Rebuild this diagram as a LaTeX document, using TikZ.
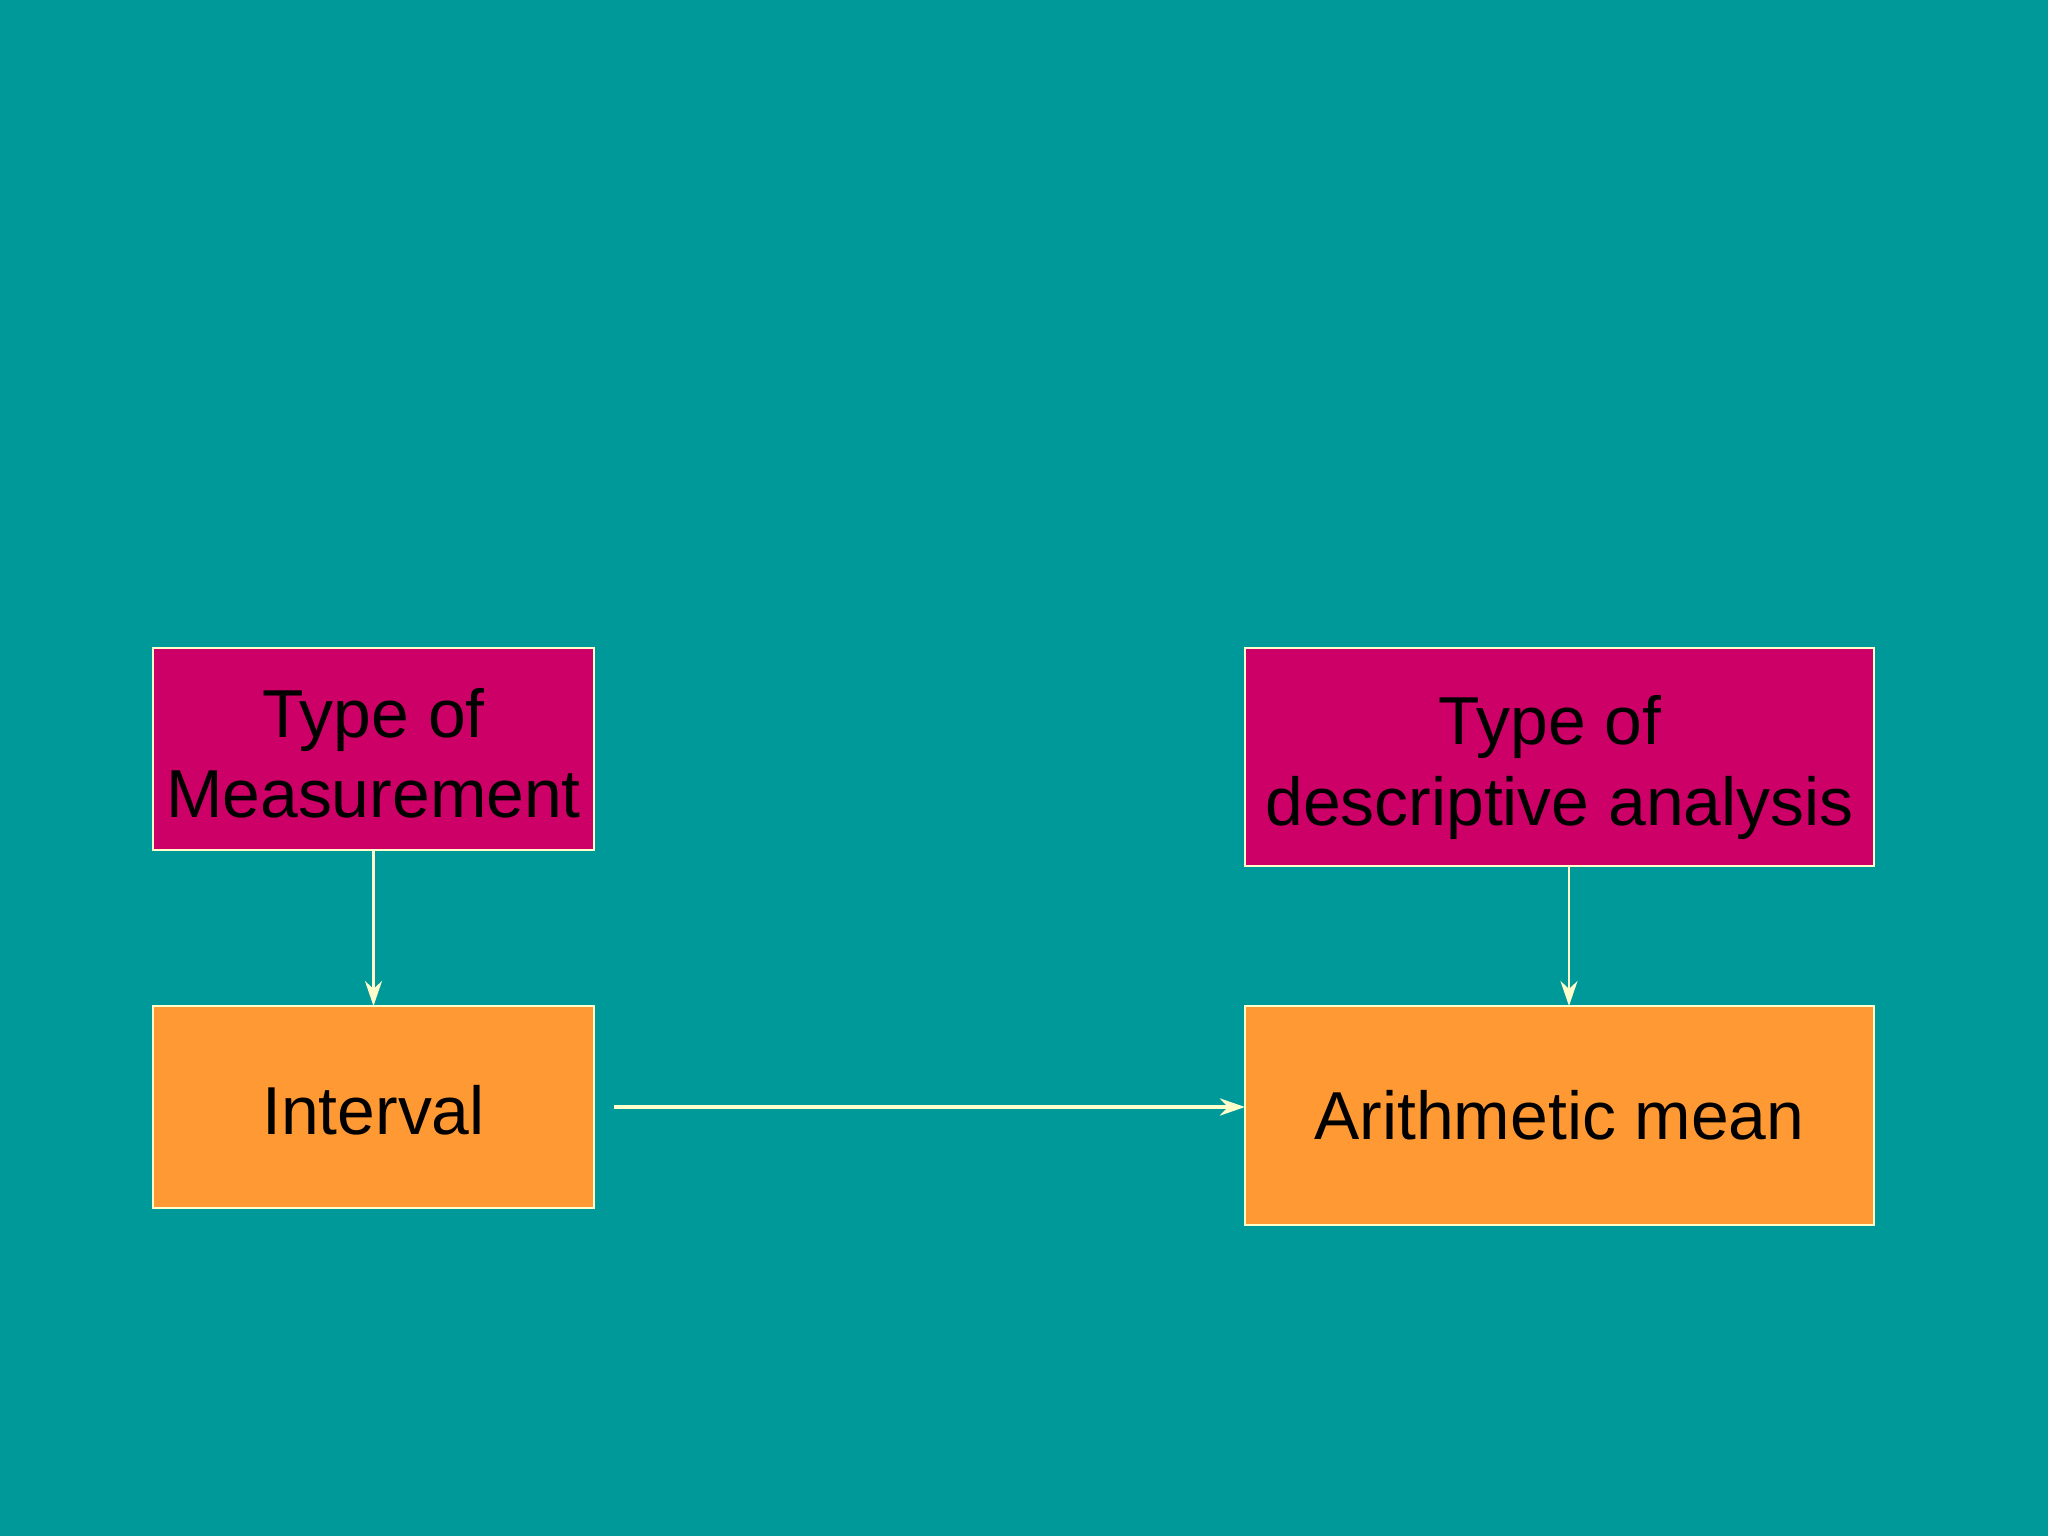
\documentclass[tikz,border=0pt]{standalone}
\usepackage{fontspec}
\setmainfont{Liberation Sans}
\usetikzlibrary{arrows.meta}
\definecolor{slidebg}{RGB}{0,153,153}
\definecolor{headbox}{RGB}{204,0,102}
\definecolor{valbox}{RGB}{255,153,51}
\definecolor{cream}{RGB}{255,255,204}
\begin{document}
\begin{tikzpicture}[box/.style={draw=cream,line width=0.6pt,inner sep=0pt,outer sep=0pt,
          align=center,font=\fontsize{19.3}{23}\selectfont},
        conn/.style={draw=cream,-{Stealth[length=0.25cm,width=0.17cm,inset=0.08cm]}}]
        \fill[slidebg] (0,0) rectangle (20.48,-15.36);
        \node[box,fill=headbox,minimum width=4.41cm,minimum height=2.02cm] (tl) at (3.735,-7.49) {\rule{0pt}{16.4pt}Type of\\Measurement};
        \node[box,fill=valbox,minimum width=4.41cm,minimum height=2.02cm] (bl) at (3.735,-11.07) {\rule{0pt}{16pt}Interval};
        \node[box,fill=headbox,minimum width=6.29cm,minimum height=2.18cm] (tr) at (15.595,-7.57) {\rule{0pt}{19.8pt}Type of\kern5.4pt\\descriptive analysis};
        \node[box,fill=valbox,minimum width=6.29cm,minimum height=2.19cm] (br) at (15.595,-11.155) {Arithmetic mean};
        \draw[conn,line width=0.8pt] (tl) -- (bl);
        \draw[conn,line width=0.8pt] ([xshift=0.095cm]tr.south) -- ([xshift=0.095cm]br.north);
        \draw[conn,line width=1.4pt] ([xshift=0.2cm]bl.east) -- (bl.east -| br.west);
      \end{tikzpicture}
\end{document}
